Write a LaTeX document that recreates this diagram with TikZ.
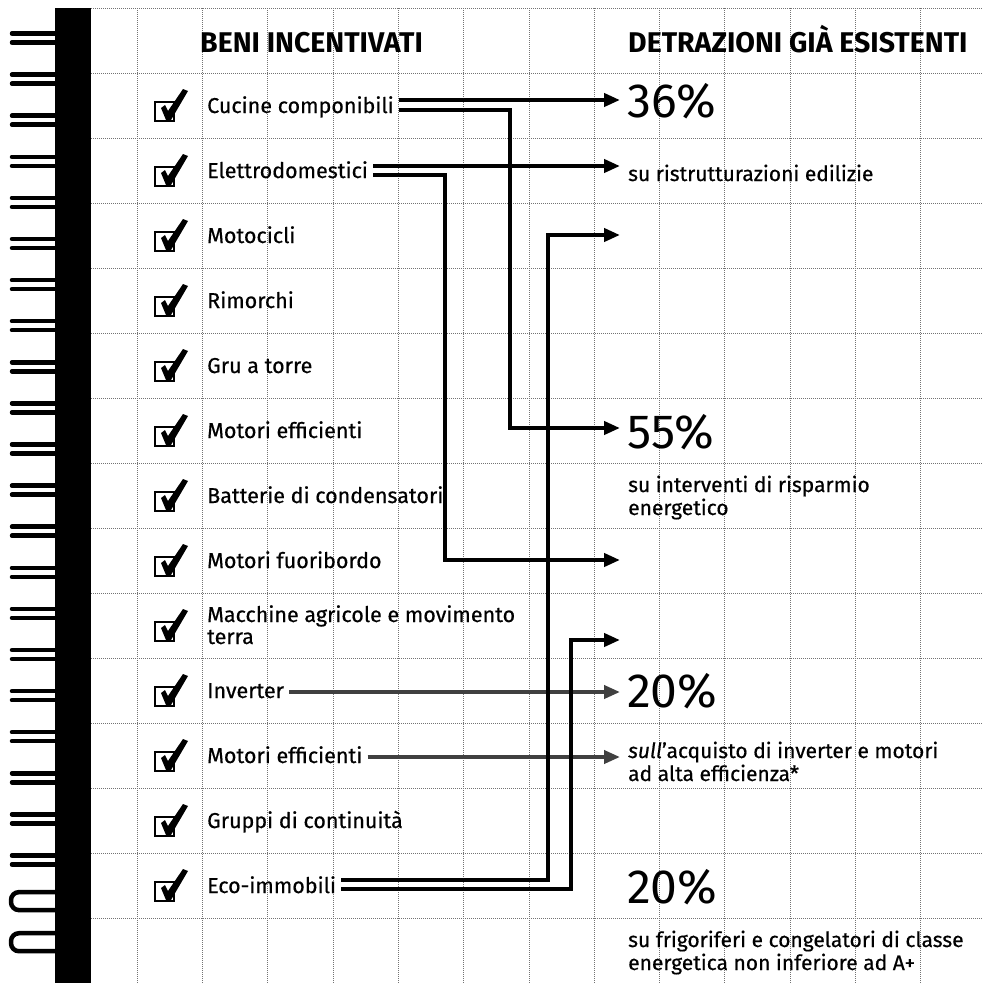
\documentclass[tikz,border=0pt]{standalone}
\usepackage{fontspec}
\setmainfont{Fira Sans}
\newfontfamily\medfont{Fira Sans}[FakeBold=0.5]
\usetikzlibrary{arrows.meta}
\tikzset{tickbox/.pic={
  \draw[line width=2.2pt] (-11,-5) rectangle (8,14);
  \fill (-5,1) -- (-1,-2) -- (2,4) -- (17,-18) -- (22,-16) -- (5,13) -- (0,13) -- cycle;
}}
\begin{document}
\begin{tikzpicture}[x=1pt,y=-1pt,
  gridline/.style={black!55, line width=0.5pt, dash pattern=on 1pt off 1pt},
  item/.style={anchor=west, inner sep=0pt, font=\medfont\fontsize{21.5}{23}\selectfont, text height=16pt, text depth=4pt},
  itemtwo/.style={anchor=base west, inner sep=0pt, font=\medfont\fontsize{21.5}{22}\selectfont, align=left},
  head/.style={anchor=base west, inner sep=0pt, font=\fontsize{28.5}{30}\selectfont\bfseries},
  pct/.style={anchor=base west, inner sep=0pt, font=\fontsize{48}{50}\selectfont},
  desc/.style={anchor=base west, inner sep=0pt, font=\medfont\fontsize{21}{23}\selectfont, align=left},
  conn/.style={line width=4.8pt, line join=miter, -{Triangle[length=16pt,width=13pt]}},
  thinconn/.style={conn, line width=3.8pt, black!75},
  coil/.style={line width=4.5pt, line cap=round},
]
\useasboundingbox (0,0) rectangle (983,983);
\fill[white] (0,0) rectangle (983,983);
% grid
\foreach \k in {0,...,12} \draw[gridline] ({137+65.3*\k},8) -- ({137+65.3*\k},983);
\foreach \k in {0,...,15} \draw[gridline] (91,{8+65*\k}) -- (983,{8+65*\k});
% binding
\fill (55,8) rectangle (91,983);
\foreach \k in {0,...,20} {
  \draw[coil] (12,{38+41.1*\k-4.5}) -- (56,{38+41.1*\k-4.5});
  \draw[coil] (12,{38+41.1*\k+4.5}) -- (56,{38+41.1*\k+4.5});
}
\foreach \k in {21,22} \draw[coil, rounded corners=8pt] (56,{38+41.1*\k-9}) -- (11,{38+41.1*\k-9}) -- (11,{38+41.1*\k+9}) -- (56,{38+41.1*\k+9});
% headers
\node[head] (h1) at (200,52) {BENI INCENTIVATI};
\node[head] (h2) at (628,52) {DETRAZIONI GIÀ ESISTENTI};
% check boxes
\foreach \k in {0,...,12} \pic at (166,{107+65*\k}) {tickbox};
% items
\node[item] (cuc) at (207,107) {Cucine componibili};
\node[item] (ele) at (207,172) {Elettrodomestici};
\node[item] (moto) at (207,237) {Motocicli};
\node[item] (rim) at (207,302) {Rimorchi};
\node[item] (gru) at (207,367) {Gru a torre};
\node[item] (mot1) at (207,432) {Motori efficienti};
\node[item] (bat) at (207,497) {Batterie di condensatori};
\node[item] (fuo) at (207,562) {Motori fuoribordo};
\node[itemtwo] (mac) at (207,644) {Macchine agricole e movimento\\terra};
\node[item] (inv) at (207,692) {Inverter};
\node[item] (mot2) at (207,757) {Motori efficienti};
\node[item] (gru2) at (207,822) {Gruppi di continuità};
\node[item] (eco) at (207,887) {Eco-immobili};
% right side
\node[pct] (p36) at (627,117) {36\%};
\node[desc] (d36) at (628,181) {su ristrutturazioni edilizie};
\node[pct] (p55) at (627,448) {55\%};
\node[desc] (d55) at (628,515) {su interventi di risparmio\\energetico};
\node[pct] (p20a) at (627,707) {20\%};
\node[desc] (d20a) at (628,781) {\textit{sull}’acquisto di inverter e motori\\ad alta efficienza*};
\node[pct] (p20b) at (627,903) {20\%};
\node[desc] (d20b) at (628,970) {su frigoriferi e congelatori di classe\\energetica non inferiore ad A+};
% arrow tips and corners
\coordinate (t1) at (620,100);
\coordinate (t2) at (620,166);
\coordinate (t3) at (620,235);
\coordinate (t4) at (620,428);
\coordinate (t5) at (620,560);
\coordinate (t6) at (620,640);
\coordinate (t7) at (620,692);
\coordinate (t8) at (620,757);
\coordinate (k1) at (510,428);
\coordinate (k2) at (445,560);
\coordinate (k3) at (548,235);
\coordinate (k4) at (571,640);
% connectors
\draw[thinconn] ([xshift=5pt]inv.east) -- (t7);
\draw[thinconn] ([xshift=5pt]mot2.east) -- (t8);
\draw[conn] ([shift={(5,-7)}]cuc.east) -- (t1);
\draw[conn] ([shift={(5,3)}]cuc.east) -| (k1) -- (t4);
\draw[conn] ([shift={(5,-6)}]ele.east) -- (t2);
\draw[conn] ([shift={(5,3)}]ele.east) -| (k2) -- (t5);
\draw[conn] ([shift={(5,-7)}]eco.east) -| (k3) -- (t3);
\draw[conn] ([shift={(5,2)}]eco.east) -| (k4) -- (t6);
\end{tikzpicture}
\end{document}
